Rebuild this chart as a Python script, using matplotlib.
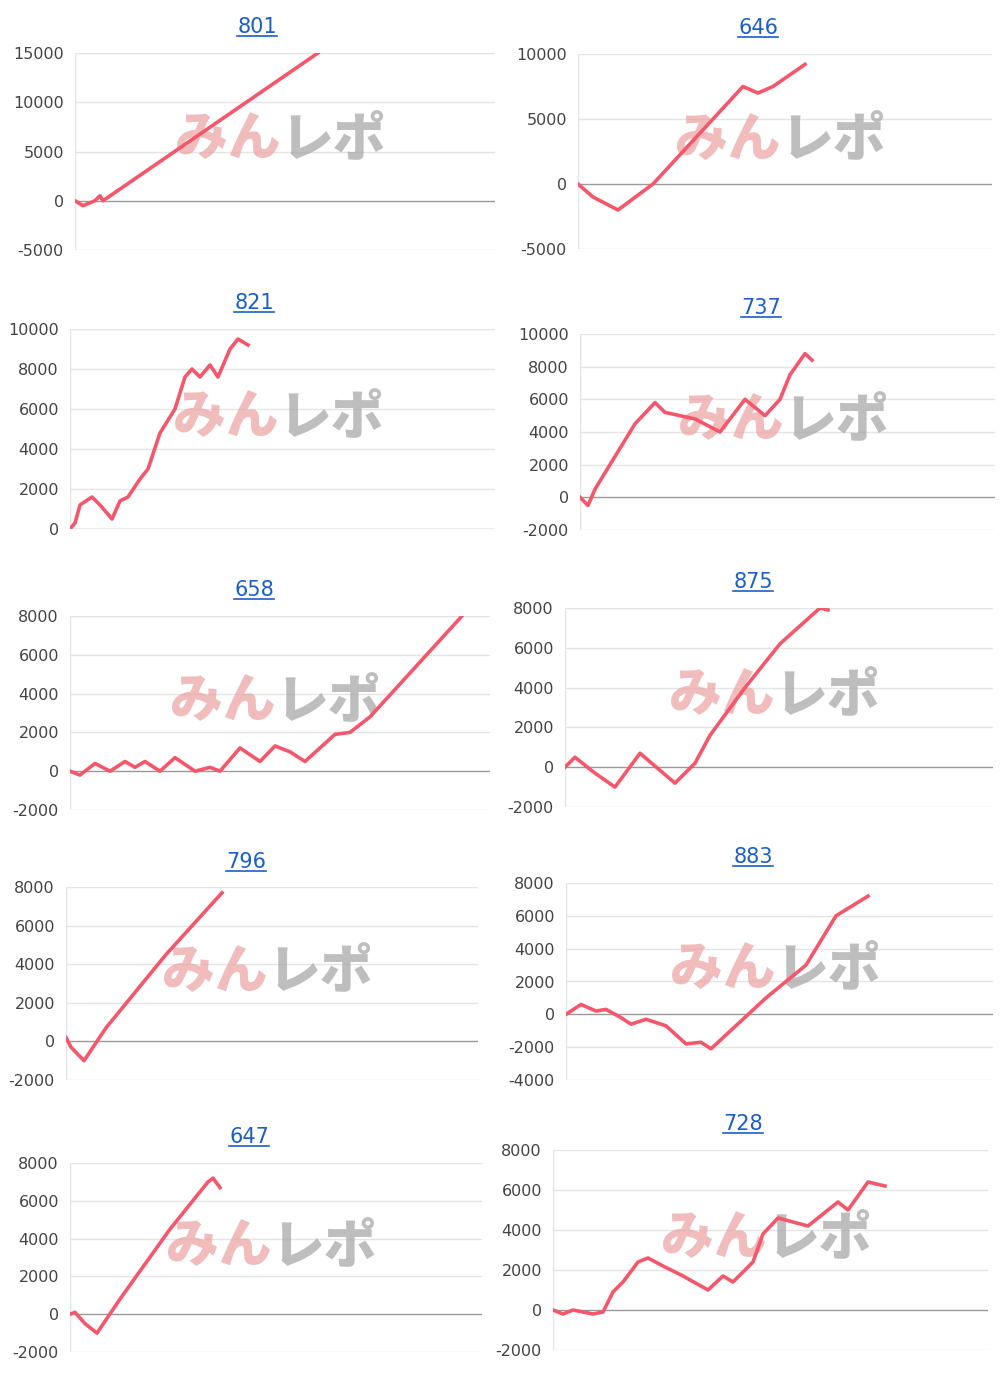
import matplotlib
matplotlib.use("Agg")
import matplotlib.pyplot as plt
from matplotlib.lines import Line2D

plt.rcParams["axes.unicode_minus"] = False

titles = ["801", "646", "821", "737", "658", "875", "796", "883", "647", "728"]

xs = [
    [0, 8, 20, 25, 28, 243],
    [0, 15, 40, 75, 165, 180, 195, 227],
    [0, 5, 10, 22, 30, 42, 50, 58, 70, 78, 90, 105, 115, 122, 130, 140, 148, 160, 168, 178],
    [0, 8, 15, 35, 55, 75, 85, 100, 115, 140, 165, 185, 200, 210, 225, 232],
    [0, 10, 25, 40, 55, 65, 75, 90, 105, 125, 140, 150, 170, 190, 205, 220, 235, 265, 280, 300, 392],
    [0, 10, 30, 50, 75, 110, 130, 145, 180, 215, 255, 263],
    [0, 5, 18, 40, 100, 156],
    [0, 15, 30, 40, 55, 65, 80, 100, 120, 135, 145, 200, 240, 270, 302],
    [0, 5, 15, 27, 50, 100, 138, 143, 150],
    [0, 10, 20, 40, 50, 60, 70, 85, 95, 110, 130, 155, 170, 180, 200, 210, 225, 240, 255, 265, 285, 295, 315, 332],
]
ys = [
    [0, -500, 0, 500, 0, 15000],
    [0, -1000, -2000, 0, 7500, 7000, 7500, 9200],
    [0, 300, 1200, 1600, 1200, 500, 1400, 1600, 2500, 3000, 4800, 6000, 7600, 8000, 7600, 8200, 7600, 9000, 9500, 9200],
    [0, -500, 500, 2500, 4500, 5800, 5200, 5000, 4800, 4000, 6000, 5000, 6000, 7500, 8800, 8400],
    [0, -200, 400, 0, 500, 200, 500, 0, 700, 0, 200, 0, 1200, 500, 1300, 1000, 500, 1900, 2000, 2800, 8000],
    [0, 500, -300, -1000, 700, -800, 200, 1600, 4000, 6200, 8000, 7900],
    [200, -300, -1000, 700, 4500, 7700],
    [0, 600, 200, 300, -200, -600, -300, -700, -1800, -1700, -2100, 1000, 3000, 6000, 7200],
    [0, 100, -500, -1000, 800, 4500, 7000, 7200, 6700],
    [0, -200, 0, -200, -100, 900, 1400, 2400, 2600, 2200, 1700, 1000, 1700, 1400, 2400, 3800, 4600, 4400, 4200, 4600, 5400, 5000, 6400, 6200],
]
yticks = [
    [-5000, 0, 5000, 10000, 15000],
    [-5000, 0, 5000, 10000],
    [0, 2000, 4000, 6000, 8000, 10000],
    [-2000, 0, 2000, 4000, 6000, 8000, 10000],
    [-2000, 0, 2000, 4000, 6000, 8000],
    [-2000, 0, 2000, 4000, 6000, 8000],
    [-2000, 0, 2000, 4000, 6000, 8000],
    [-4000, -2000, 0, 2000, 4000, 6000, 8000],
    [-2000, 0, 2000, 4000, 6000, 8000],
    [-2000, 0, 2000, 4000, 6000, 8000],
]
boxes = [
    (75, 495, 53, 250, 27), (578, 992, 54, 249, 28),
    (70, 495, 329, 529, 303), (580, 995, 334, 530, 308),
    (70, 490, 616, 810, 590), (565, 993, 608, 807, 582),
    (66, 478, 887, 1080, 862), (566, 993, 883, 1080, 857),
    (70, 482, 1163, 1352, 1137), (553, 988, 1150, 1350, 1124),
]
title_xs = [257, 758, 254, 761, 254, 753, 246, 753, 249, 743]

W, H = 1000, 1376
fig = plt.figure(figsize=(W / 100, H / 100), dpi=100)
jp = ["Noto Sans CJK JP", "DejaVu Sans"]
title_texts = []
for i in range(10):
    x0, x1, yt, yb, ty = boxes[i]
    ax = fig.add_axes([x0 / W, 1 - yb / H, (x1 - x0) / W, (yb - yt) / H])
    ax.plot(xs[i], ys[i], color="#f4576b", lw=2.6, zorder=3)
    ax.set_xlim(0, x1 - x0)
    ax.set_ylim(yticks[i][0], yticks[i][-1])
    ax.set_yticks(yticks[i])
    ax.set_xticks([])
    ax.tick_params(axis="y", length=0, labelsize=11.5, labelcolor="#444444", pad=8)
    for s in ax.spines.values():
        s.set_visible(False)
    for t in yticks[i]:
        ax.axhline(t, color="#999999" if t == 0 else "#e4e4e4", lw=1, zorder=1)
    ax.axvline(0, color="#e4e4e4", lw=1, zorder=1)
    ax.text(0.49, 0.56, "みん", transform=ax.transAxes, ha="right", va="center",
            fontsize=38, fontweight="black", family=jp,
            color="#eaa0a0", alpha=0.7, zorder=2)
    ax.text(0.49, 0.56, "レポ", transform=ax.transAxes, ha="left", va="center",
            fontsize=38, fontweight="black", family=jp,
            color="#a8a8a8", alpha=0.75, zorder=2)
    tt = fig.text(title_xs[i] / W, 1 - ty / H, titles[i], ha="center", va="center",
                  fontsize=15, color="#1a5fc8")
    title_texts.append(tt)

fig.canvas.draw()
r = fig.canvas.get_renderer()
for tt in title_texts:
    bb = tt.get_window_extent(r)
    y = (bb.y0 + 1) / H
    fig.add_artist(Line2D([bb.x0 / W, bb.x1 / W], [y, y], color="#1a5fc8", lw=1.2))

fig.savefig("out.png", dpi=100, facecolor="white")
